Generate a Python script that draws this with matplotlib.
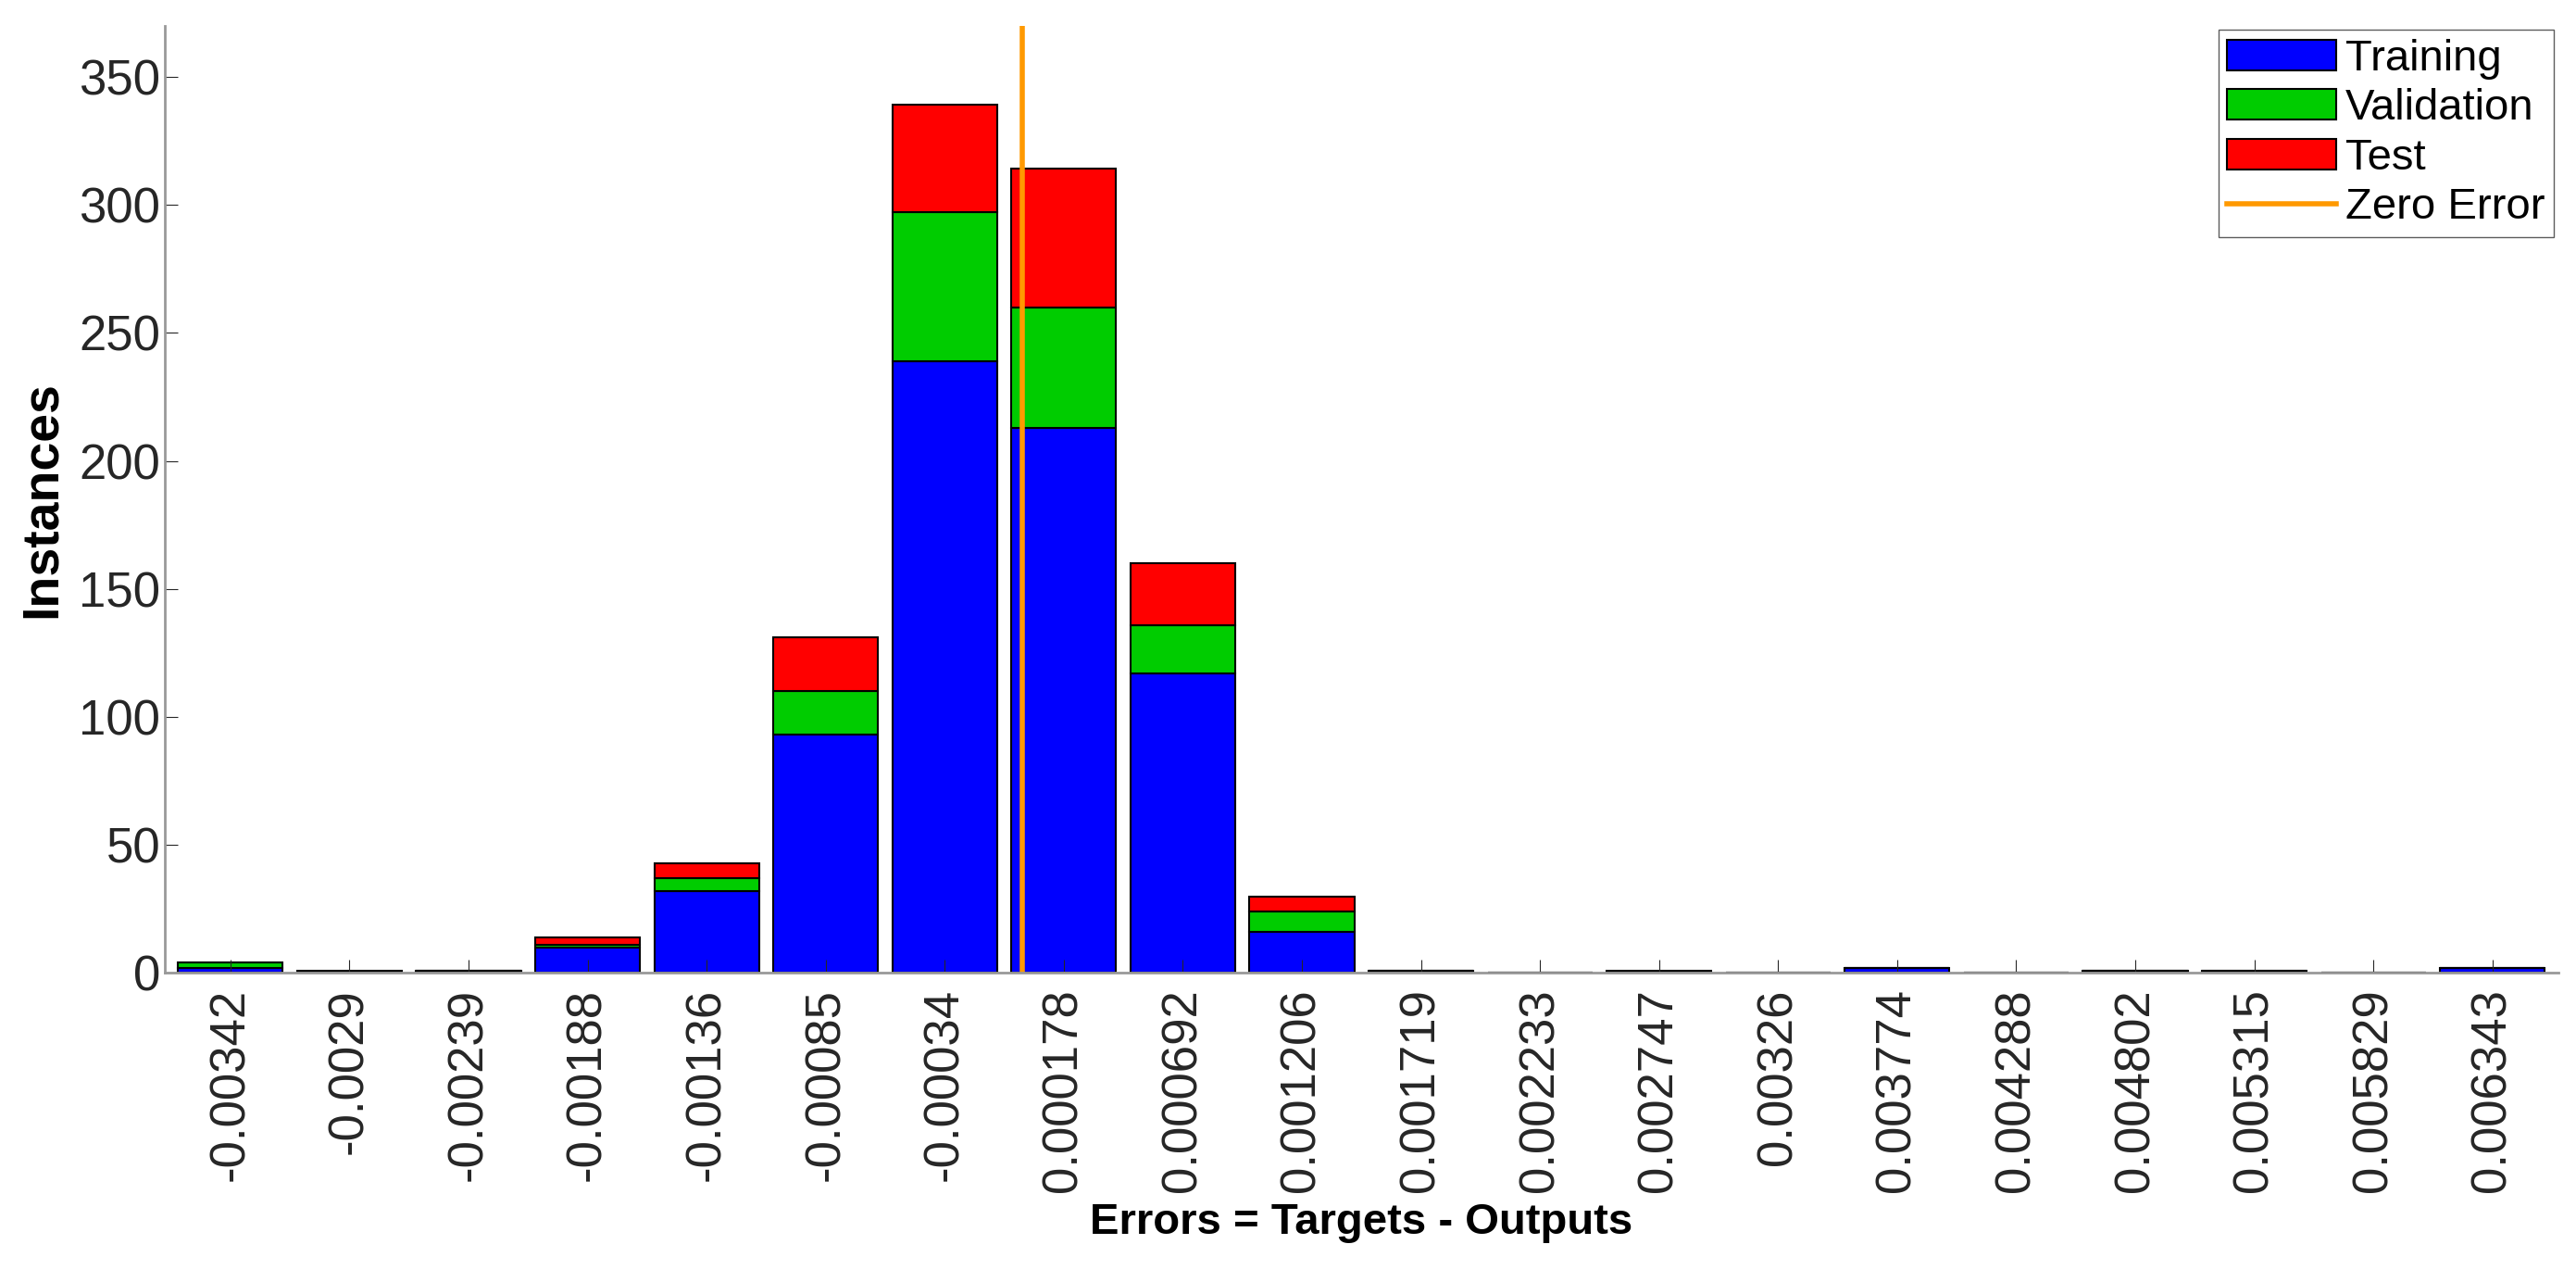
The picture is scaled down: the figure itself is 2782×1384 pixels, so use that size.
import matplotlib.pyplot as plt
import numpy as np

bin_labels = ["-0.00342", "-0.0029", "-0.00239", "-0.00188", "-0.00136", "-0.00085",
              "-0.00034", "0.000178", "0.000692", "0.001206", "0.001719", "0.002233",
              "0.002747", "0.00326", "0.003774", "0.004288", "0.004802", "0.005315",
              "0.005829", "0.006343"]
training = [2, 0, 1, 10, 32, 93, 239, 213, 117, 16, 1, 0, 0, 0, 2, 0, 1, 0, 0, 2]
validation = [2, 0, 0, 1, 5, 17, 58, 47, 19, 8, 0, 0, 0, 0, 0, 0, 0, 1, 0, 0]
test = [0, 1, 0, 3, 6, 21, 42, 54, 24, 6, 0, 0, 1, 0, 0, 0, 0, 0, 0, 0]
bin_start = -0.00342
bin_step = 0.000514

plt.rcParams['font.family'] = ['Arial', 'Liberation Sans', 'DejaVu Sans']
fig = plt.figure(figsize=(27.82, 13.84), dpi=100)
ax = fig.add_axes([0.064, 0.241, 0.929, 0.739])

x = np.arange(len(bin_labels))
tr = np.array(training)
va = np.array(validation)
te = np.array(test)
kw = dict(width=0.88, edgecolor='black', linewidth=1.5)
ax.bar(x, tr, color='#0000ff', label='Training', **kw)
ax.bar(x, va, bottom=tr, color='#00cc00', label='Validation', **kw)
ax.bar(x, te, bottom=tr + va, color='#ff0000', label='Test', **kw)

zero_pos = (0 - bin_start) / bin_step
ax.axvline(zero_pos, color='#ff9900', linewidth=4, label='Zero Error')

ax.set_xlim(-0.55, len(x) - 0.45)
ax.set_ylim(0, 370)
ax.set_xticks(x)
ax.set_xticklabels(bin_labels, rotation=90, fontsize=38)
ax.set_yticks(np.arange(0, 351, 50))
ax.tick_params(axis='y', labelsize=38, direction='in', length=10, colors='#262626')
ax.tick_params(axis='x', direction='in', length=10, colors='#262626', pad=12)
ax.set_xlabel('Errors = Targets - Outputs', fontsize=34, fontweight='bold', labelpad=8)
ax.set_ylabel('Instances', fontsize=40, fontweight='bold', labelpad=10)
for s in ['top', 'right']:
    ax.spines[s].set_visible(False)
for s in ['left', 'bottom']:
    ax.spines[s].set_color('#999999')
    ax.spines[s].set_linewidth(2)

handles, labels = ax.get_legend_handles_labels()
order = [1, 2, 3, 0]
ax.legend([handles[i] for i in order], [labels[i] for i in order],
          loc='upper right', fontsize=34, frameon=True, fancybox=False,
          edgecolor='#333333', handlelength=2.5, borderpad=0.2, labelspacing=0.2,
          handletextpad=0.2, borderaxespad=0.1)

fig.savefig('out.png', dpi=100)
